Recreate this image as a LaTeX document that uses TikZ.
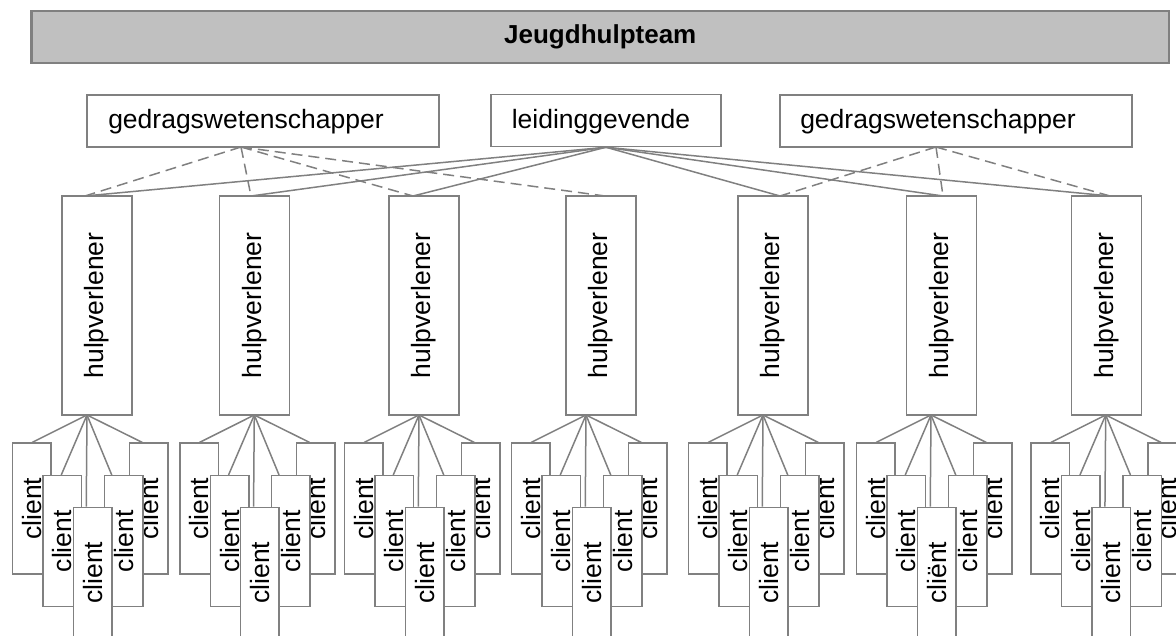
\documentclass[tikz,border=0pt]{standalone}
\usepackage{fontspec}
\setmainfont{Liberation Sans}
\usetikzlibrary{calc}
\definecolor{edge}{HTML}{808080}
\definecolor{barfill}{HTML}{C0C0C0}

\begin{document}
\begin{tikzpicture}[x=1pt,y=-1pt,
  txt/.style={font=\fontsize{26.5}{31}\selectfont},
  box/.style={draw=edge, line width=1.5pt, fill=white, inner sep=0pt, txt},
  topbox/.style={box, minimum height=52pt},
  hbox/.style={box, minimum width=70pt, minimum height=219pt},
  cbox/.style={box, minimum width=38.5pt, minimum height=131pt},
  link/.style={draw=edge, line width=1.5pt},
  dlink/.style={link, dash pattern=on 11pt off 6pt}]
\useasboundingbox (0,0) rectangle (1176,635);

% team banner
\node[draw=edge, line width=2.5pt, fill=barfill, minimum width=1137.5pt,
      minimum height=52pt, inner sep=0pt,
      font=\fontsize{26}{30}\selectfont\bfseries] (team) at (600.25,37) {Jeugdhulpteam};

% management layer
\node[topbox, minimum width=352pt] (g1) at (263,121) {};
\node[txt] (g1t) at (246,122) {gedragswetenschapper};
\node[topbox, minimum width=230pt] (lead) at (606,120.5) {};
\node[txt] (leadt) at (601,122) {leidinggevende};
\node[topbox, minimum width=352pt] (g2) at (956,121) {};
\node[txt] (g2t) at (938,122) {gedragswetenschapper};

\coordinate (g1b) at (241,147);
\coordinate (g2b) at (936,147);

% attachment points on top of each caseworker box
\foreach \k/\tx in {1/85, 2/251, 3/413, 4/605, 5/780, 6/943, 7/1110}{
  \coordinate (t\k) at (\tx,196);
}
% line management
\foreach \k in {1,2,3,5,6,7}{ \draw[link] (lead.south) -- (t\k); }
% behavioural scientists
\foreach \k in {1,2,3,4}{ \draw[dlink] (g1b) -- (t\k); }
\foreach \k in {5,6,7}{ \draw[dlink] (g2b) -- (t\k); }

% caseworkers with their clients
\foreach \k/\hx/\ax/\lab in {1/62/87/client, 2/219.3/254.3/client,
    3/389/419/client, 4/566/586/client, 5/738/763/client,
    6/906.7/931/cliënt, 7/1071.7/1105.7/client}{
  \node[hbox] (h\k) at (\hx+35,305.5) {\rotatebox{90}{hulpverlener}};
  \coordinate (a\k) at (\ax,415);
  \node[cbox] (c\k-1) at (\ax-55.25,508.65) {\rotatebox{90}{client}};
  \node[cbox] (c\k-5) at (\ax+61.65,508.65) {\rotatebox{90}{client}};
  \node[cbox] (c\k-2) at (\ax-24.75,541.2) {\rotatebox{90}{client}};
  \node[cbox] (c\k-4) at (\ax+36.65,541.2) {\rotatebox{90}{client}};
  \node[cbox] (c\k-3) at (\ax+5.55,572.8) {\rotatebox{90}{\lab}};
  \draw[link] (a\k) -- ($(c\k-1.north west)+(20.5,0)$);
  \draw[link] (a\k) -- ($(c\k-2.north west)+(19,0)$);
  \draw[link] (a\k) -- ($(c\k-3.north west)+(13.7,0)$);
  \draw[link] (a\k) -- ($(c\k-4.north west)+(8.1,0)$);
  \draw[link] (a\k) -- ($(c\k-5.north west)+(13.6,0)$);
}
\end{tikzpicture}
\end{document}
